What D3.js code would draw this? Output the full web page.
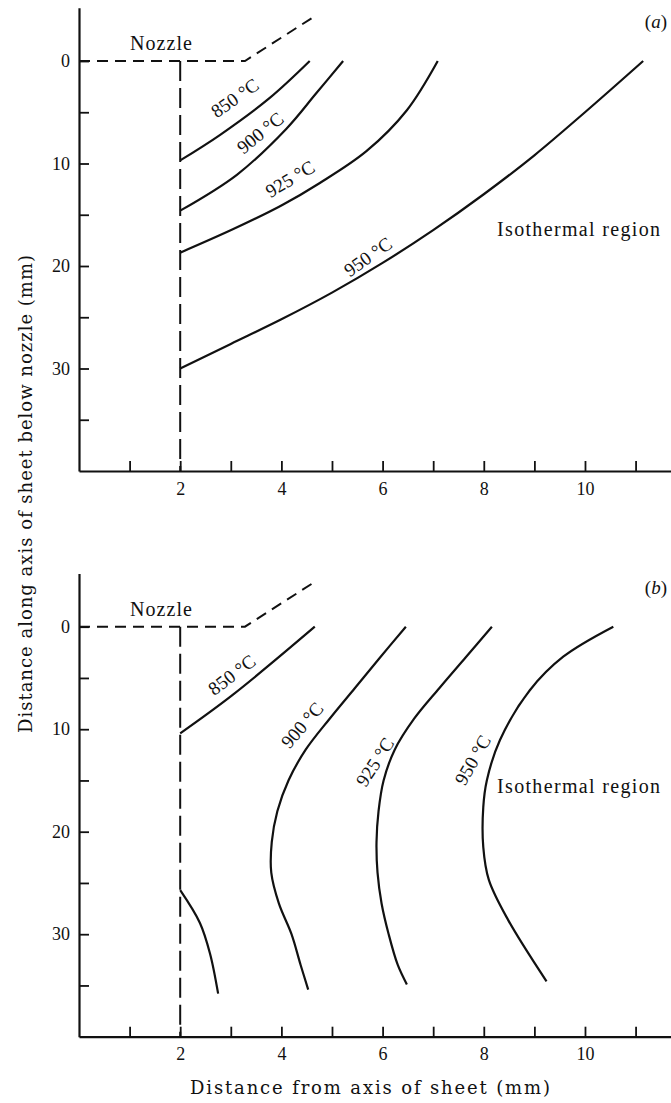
<!DOCTYPE html>
<html>
<head>
<meta charset="utf-8">
<script src="https://cdn.jsdelivr.net/npm/d3@7"></script>
<style>
  body { margin: 0; background: #fff; }
  svg { display: block; }
</style>
</head>
<body>
<svg width="671" height="1103"></svg>
<script>
// ---- data (mm) ----
var xTicks = [1, 2, 3, 4, 5, 6, 7, 8, 9, 10, 11];
var xTickLabels = [2, 4, 6, 8, 10];
var yTicks = [0, 5, 10, 15, 20, 25, 30, 35];
var yTickLabels = [0, 10, 20, 30];
var tempLabels = ["850 °C", "900 °C", "925 °C", "950 °C"];

// nozzle outline and sheet axis (dashed)
var nozzleEdge = [[0, 0], [3.28, 0], [4.7, -4.5]];
var sheetEdge = [[2, 0], [2, 40]];

// (a) isotherms, [x, depth]
var a850 = [[2, 9.7], [2.79, 7.2], [3.77, 3.6], [4.56, 0]];
var a900 = [[2, 14.6], [3.12, 11.1], [4.1, 6.6], [4.68, 3.2], [5.22, 0]];
var a925 = [[2, 18.7], [3.05, 16.4], [4.0, 14.1], [4.76, 11.9], [5.68, 8.8], [6.48, 4.8], [7.09, 0]];
var a950 = [[2, 30], [3, 27.6], [4, 25.2], [5, 22.6], [6, 19.7], [7, 16.5], [8, 13.0], [9, 9.2], [10, 5.0], [11.15, 0]];

// (b) isotherms
var b850 = [[2, 10.4], [3.05, 6.6], [4.66, 0]];
var b850low = [[2, 25.7], [2.39, 28.9], [2.59, 31.9], [2.75, 35.8]];
var b900 = [[6.46, 0], [5.95, 3], [5.45, 6], [4.95, 9], [4.48, 12], [4.14, 15], [3.92, 18], [3.81, 21], [3.8, 24], [3.95, 27], [4.2, 30], [4.38, 33], [4.53, 35.4]];
var b925 = [[8.16, 0], [7.64, 3], [7.12, 6], [6.62, 9], [6.24, 12], [6.02, 15], [5.92, 18], [5.88, 21], [5.9, 24], [5.98, 27], [6.12, 30], [6.3, 33], [6.48, 34.9]];
var b950 = [[10.56, 0], [9.57, 2.93], [8.91, 6.2], [8.32, 11.05], [8.06, 15], [7.99, 17.6], [7.99, 21.5], [8.1, 24.7], [8.48, 28.6], [9.24, 34.6]];

var serif = "'Liberation Serif', 'Times New Roman', Times, serif";
var school = "'DejaVu Serif', 'Liberation Serif', serif";

var panels = [
  { tag: "a", y0: 61, curves: [a850, a900, a925, a950],
    labels: [[3.08, 3.6, -35], [3.58, 7.0, -39], [4.17, 11.5, -31], [5.71, 19.1, -35]],
    iso: 236 },
  { tag: "b", y0: 626.7, curves: [b850, b850low, b900, b925, b950],
    labels: [[3.02, 4.7, -37], [4.41, 9.6, -49], [5.85, 13.2, -57], [7.78, 13.0, -60]],
    iso: 793 }
];

var svg = d3.select("svg");
var x = d3.scaleLinear().domain([0, 11.7]).range([79, 671]);
var pxPerMm = 10.25;

panels.forEach(function(p) {
  var y = d3.scaleLinear().domain([-5.2, 40]).range([p.y0 - 5.2 * pxPerMm, p.y0 + 40 * pxPerMm]);
  var straight = d3.line().x(d => x(d[0])).y(d => y(d[1]));
  var smooth = d3.line().x(d => x(d[0])).y(d => y(d[1])).curve(d3.curveCatmullRom.alpha(0.5));
  var g = svg.append("g");

  // axes
  var ya = g.append("g")
    .attr("transform", "translate(" + x(0) + ",0)")
    .call(d3.axisLeft(y).tickValues(yTicks).tickSizeInner(-10).tickSizeOuter(0).tickPadding(9)
      .tickFormat(d => yTickLabels.includes(d) ? d : ""));
  var xa = g.append("g")
    .attr("transform", "translate(0," + y(40) + ")")
    .call(d3.axisBottom(x).tickValues(xTicks).tickSizeInner(-10).tickSizeOuter(0).tickPadding(11)
      .tickFormat(d => xTickLabels.includes(d) ? d : ""));
  [ya, xa].forEach(function(a) {
    a.attr("font-family", serif).attr("font-size", 18);
    a.select(".domain").attr("stroke", "#111").attr("stroke-width", 2.2);
    a.selectAll(".tick line").attr("stroke", "#111").attr("stroke-width", 1.8);
    a.selectAll(".tick text").attr("fill", "#111");
  });

  // dashed nozzle and sheet axis
  g.append("path").attr("d", straight(nozzleEdge))
    .attr("fill", "none").attr("stroke", "#111").attr("stroke-width", 2)
    .attr("stroke-dasharray", "11,7");
  g.append("path").attr("d", straight(sheetEdge))
    .attr("fill", "none").attr("stroke", "#111").attr("stroke-width", 2)
    .attr("stroke-dasharray", "20,7");

  // isotherms
  g.selectAll("path.iso").data(p.curves).enter().append("path")
    .attr("class", "iso")
    .attr("d", d => smooth(d))
    .attr("fill", "none").attr("stroke", "#111").attr("stroke-width", 2.2);

  // isotherm labels
  g.selectAll("text.tl").data(p.labels).enter().append("text")
    .attr("class", "tl")
    .attr("transform", d => "translate(" + x(d[0]) + "," + y(d[1]) + ") rotate(" + d[2] + ")")
    .attr("text-anchor", "middle").attr("dominant-baseline", "central")
    .attr("font-family", serif).attr("font-size", 19).attr("fill", "#111")
    .text((d, i) => tempLabels[i]);

  g.append("text").attr("x", 161).attr("y", y(0) - 11)
    .attr("text-anchor", "middle").attr("font-family", serif).attr("font-size", 20)
    .attr("textLength", 62).attr("fill", "#111")
    .text("Nozzle");
  g.append("text").attr("x", 497).attr("y", p.iso)
    .attr("font-family", serif).attr("font-size", 20).attr("textLength", 163).attr("fill", "#111")
    .text("Isothermal region");
  var t = g.append("text").attr("x", 667).attr("y", y(0) - 33)
    .attr("text-anchor", "end").attr("font-family", serif).attr("font-size", 19).attr("fill", "#111");
  t.append("tspan").text("(");
  t.append("tspan").attr("font-style", "italic").text(p.tag);
  t.append("tspan").text(")");
});

svg.append("text")
  .attr("transform", "translate(32,494) rotate(-90)")
  .attr("text-anchor", "middle")
  .attr("font-family", school).attr("font-size", 18).attr("textLength", 478).attr("fill", "#111")
  .text("Distance along axis of sheet below nozzle (mm)");

svg.append("text")
  .attr("x", 370).attr("y", 1094)
  .attr("text-anchor", "middle")
  .attr("font-family", school).attr("font-size", 18).attr("textLength", 360).attr("fill", "#111")
  .text("Distance from axis of sheet (mm)");
</script>
</body>
</html>
